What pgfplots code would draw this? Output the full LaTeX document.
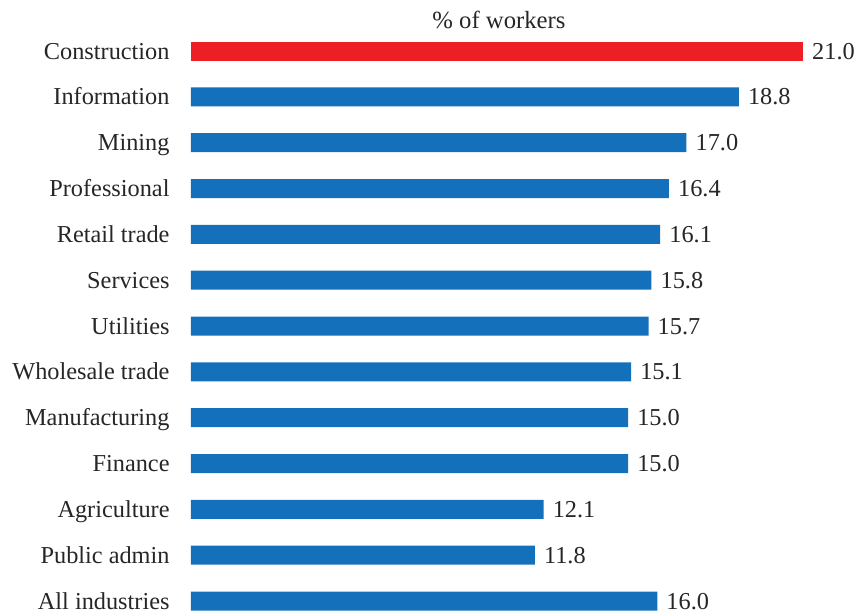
\documentclass[border=0pt]{standalone}
\usepackage{pgfplots}
\pgfplotsset{compat=1.18}
\usepackage{fontspec}
\setmainfont{Liberation Serif}
\definecolor{barblue}{RGB}{20,112,187}
\definecolor{barred}{RGB}{237,30,36}
\begin{document}
\begin{tikzpicture}
\useasboundingbox (-191pt,-0.5pt) rectangle (667pt,612.5pt);
\begin{axis}[
  at={(0pt,0pt)}, anchor=south west,
  scale only axis, width=612pt, height=584.4pt,
  xbar, bar width=19pt, bar shift=0pt,
  xmin=0, xmax=21,
  ymin=-0.5, ymax=12.25,
  y dir=reverse,
  ytick={0,...,12},
  yticklabels={Construction,Information,Mining,Professional,Retail trade,Services,Utilities,Wholesale trade,Manufacturing,Finance,Agriculture,Public admin,All industries},
  xtick=\empty,
  axis line style={draw=none},
  major tick style={draw=none},
  yticklabel style={font=\fontsize{24.3}{28}\selectfont, text=black!85, inner sep=0pt, xshift=-17pt, text height=16pt, text depth=0pt, anchor=east},
  nodes near coords,
  nodes near coords style={font=\fontsize{24.3}{28}\selectfont, text=black!85, inner sep=0pt, anchor=west, xshift=9pt, text height=16pt, text depth=0pt},
  /pgf/number format/.cd, fixed, fixed zerofill, precision=1, assume math mode=true,
]
\addplot[fill=barred, draw=none] coordinates {(21.0,0)};
\addplot[fill=barblue, draw=none] coordinates {
(18.8,1) (17.0,2) (16.4,3) (16.1,4) (15.8,5) (15.7,6) (15.1,7) (15.0,8) (15.0,9) (12.1,10) (11.8,11) (16.0,12)};
\end{axis}
\node[font=\fontsize{24.7}{28}\selectfont, text=black!85] at (308pt,592.5pt) {\% of workers};
\end{tikzpicture}
\end{document}
